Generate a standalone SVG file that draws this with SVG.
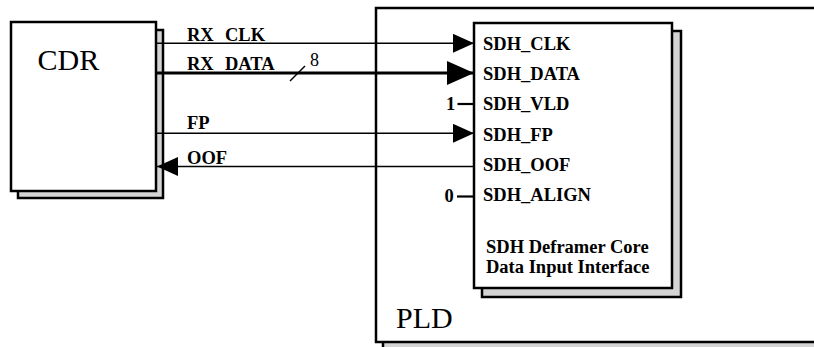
<svg xmlns="http://www.w3.org/2000/svg" width="814" height="347" viewBox="0 0 814 347">
  <style>
    .box { fill: #ffffff; stroke: #000000; stroke-width: 2.5; }
    .shadow { fill: #d4d4d4; stroke: #000000; stroke-width: 2.5; }
    .wire { fill: none; stroke: #000000; stroke-width: 1.5; }
    .bus { fill: none; stroke: #000000; stroke-width: 3.2; }
    .tie { fill: none; stroke: #000000; stroke-width: 2.2; }
    .big { font-family: "Liberation Serif", "Times New Roman", serif; font-size: 30px; fill: #000000; }
    .lbl { font-family: "Liberation Serif", "Times New Roman", serif; font-size: 18.5px; font-weight: bold; fill: #000000; }
    .num { font-family: "Liberation Serif", "Times New Roman", serif; font-size: 18px; fill: #000000; }
  </style>
  <defs>
    <marker id="arr" viewBox="0 0 21 19" refX="21" refY="9.5" markerWidth="21" markerHeight="19" markerUnits="userSpaceOnUse" orient="auto">
      <polygon points="0,0 21,9.5 0,19" fill="#000000"/>
    </marker>
    <marker id="arrBig" viewBox="0 0 27 24" refX="27" refY="12" markerWidth="27" markerHeight="24" markerUnits="userSpaceOnUse" orient="auto">
      <polygon points="0,0 27,12 0,24" fill="#000000"/>
    </marker>
  </defs>

  <rect width="814" height="347" fill="#ffffff"/>

  <!-- PLD device outline -->
  <g id="pld">
    <rect class="shadow" x="383" y="15" width="460" height="340"/>
    <rect class="box" x="376" y="8" width="460" height="334"/>
    <text class="big" x="396" y="328">PLD</text>
  </g>

  <!-- clock and data recovery chip -->
  <g id="cdr">
    <rect class="shadow" x="18" y="30" width="145" height="168"/>
    <rect class="box" x="11" y="22" width="145" height="169"/>
    <text class="big" x="37.5" y="70">CDR</text>
  </g>

  <!-- deframer core input block -->
  <g id="core">
    <rect class="shadow" x="482" y="31" width="199" height="266"/>
    <rect class="box" x="474" y="23" width="198" height="265"/>
    <text class="lbl" x="483" y="50">SDH_CLK</text>
    <text class="lbl" x="483" y="80">SDH_DATA</text>
    <text class="lbl" x="483" y="110">SDH_VLD</text>
    <text class="lbl" x="483" y="140.5">SDH_FP</text>
    <text class="lbl" x="483" y="171">SDH_OOF</text>
    <text class="lbl" x="483" y="201">SDH_ALIGN</text>
    <text class="lbl" x="486" y="252.5">SDH Deframer Core</text>
    <text class="lbl" x="486" y="273">Data Input Interface</text>
  </g>

  <!-- signal connections -->
  <g id="connectors">
    <line class="wire" x1="156" y1="43.3" x2="474" y2="43.3" marker-end="url(#arr)"/>
    <line class="bus" x1="156" y1="73" x2="474" y2="73" marker-end="url(#arrBig)"/>
    <line class="wire" x1="290" y1="81" x2="305" y2="66"/>
    <line class="wire" x1="156" y1="133.3" x2="474" y2="133.3" marker-end="url(#arr)"/>
    <line class="wire" x1="474" y1="166.5" x2="157" y2="166.5" marker-end="url(#arr)"/>
    <line class="tie" x1="457.5" y1="104" x2="474" y2="104"/>
    <line class="tie" x1="457" y1="196.5" x2="474" y2="196.5"/>
    <text class="lbl" x="187" y="40.5">RX <tspan x="225">CLK</tspan></text>
    <text class="lbl" x="187" y="70">RX <tspan x="225">DATA</tspan></text>
    <text class="lbl" x="187" y="128.5">FP</text>
    <text class="lbl" x="187" y="163.5">OOF</text>
    <text class="num" x="310" y="66">8</text>
    <text class="lbl" x="446" y="110">1</text>
    <text class="lbl" x="444.5" y="201.5">0</text>
  </g>
</svg>
